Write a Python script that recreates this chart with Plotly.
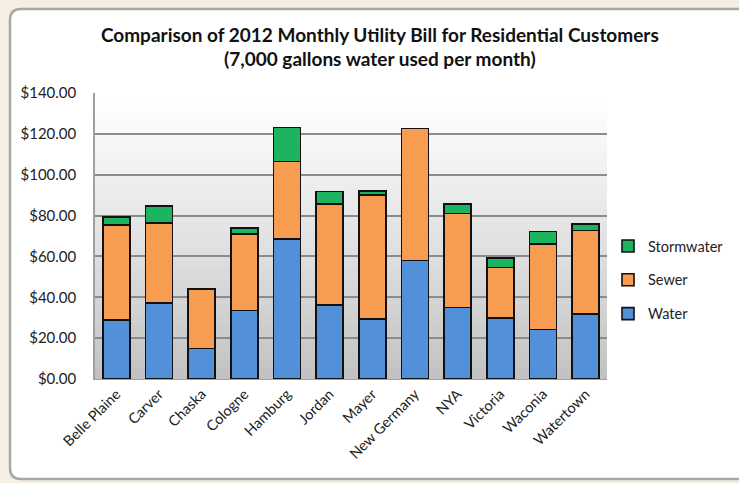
import plotly.graph_objects as go

cities = ["Belle Plaine", "Carver", "Chaska", "Cologne", "Hamburg", "Jordan",
          "Mayer", "New Germany", "NYA", "Victoria", "Waconia", "Watertown"]
water = [28.9, 37.1, 14.9, 33.5, 68.5, 36.1, 29.4, 58.0, 35.1, 29.8, 24.2, 31.7]
sewer = [46.6, 39.2, 29.2, 37.4, 37.9, 49.5, 60.6, 64.7, 45.9, 24.8, 41.8, 41.0]
storm = [3.9, 8.5, 0.0, 3.0, 16.8, 6.2, 2.0, 0.0, 4.8, 4.7, 6.2, 3.1]
y_ticks = [0, 20, 40, 60, 80, 100, 120, 140]
y_tick_labels = ["$%.2f" % v for v in y_ticks]

FONT = "Lato"
W, H = 739, 483
L, R, T, B = 95, 132, 93, 104
PW, PH = W - L - R, H - T - B


def px(x):
    return (x - L) / PW


def py(y):
    return (H - B - y) / PH


fig = go.Figure()
series = [("Water", water, "#5291DA", 3), ("Sewer", sewer, "#F89C52", 2), ("Stormwater", storm, "#1CB45E", 1)]
for name, vals, col, rank in series:
    fig.add_trace(go.Bar(
        x=cities, y=vals, name=name, legendgroup=name, legendrank=rank,
        marker=dict(color=col, line=dict(color="#111111", width=1.6)),
    ))

shapes = []
# outer card with rounded corner
x0, y0, x1, y1 = px(10), py(9), px(760), py(479)
rx = 11 / PW
ry = 11 / PH
path = (f"M {x0},{y1 + ry} L {x0},{y0 - ry} Q {x0},{y0} {x0 + rx},{y0} "
        f"L {x1},{y0} L {x1},{y1} L {x0 + rx},{y1} Q {x0},{y1} {x0},{y1 + ry} Z")
shapes.append(dict(type="path", xref="paper", yref="paper", path=path,
                   fillcolor="white", line=dict(color="#A8A8A8", width=2.5), layer="below"))
# gradient plot background
n = 60
for i in range(n):
    t = i / (n - 1)
    g = int(round(255 - (255 - 194) * (1 - t) ** 1.1))
    c = f"rgb({g},{g},{g})"
    shapes.append(dict(type="rect", xref="paper", yref="paper", x0=0, x1=1,
                       y0=i / n, y1=(i + 1) / n + 0.002, fillcolor=c,
                       line=dict(width=0), layer="below"))

fig.update_layout(
    width=W, height=H,
    margin=dict(l=L, r=R, t=T, b=B, autoexpand=False),
    paper_bgcolor="#F5EEE2",
    plot_bgcolor="rgba(0,0,0,0)",
    barmode="stack",
    bargap=0.37,
    shapes=shapes,
    font=dict(family=FONT, color="#222222", size=13),
    title=dict(
        text="<b>Comparison of 2012 Monthly Utility Bill for Residential Customers<br>(7,000 gallons water used per month)</b>",
        x=0.514, xref="container", xanchor="center",
        y=0.914, yref="container", yanchor="top",
        font=dict(family=FONT, size=19, color="#111111"),
    ),
    legend=dict(
        x=px(608), xanchor="left", y=py(280), yanchor="middle",
        traceorder="grouped", tracegroupgap=12,
        font=dict(family=FONT, size=14.5, color="#222222"),
        bgcolor="rgba(0,0,0,0)",
        itemwidth=30,
    ),
    xaxis=dict(
        tickangle=-45, showgrid=False, ticks="", automargin=False,
        showline=True, linecolor="#A0A0A0", linewidth=1,
        tickfont=dict(family=FONT, size=14.5, color="#222222"),
    ),
    yaxis=dict(
        range=[0, 140], tickvals=y_ticks, ticktext=y_tick_labels, automargin=False,
        showgrid=True, gridcolor="#8C8C8C", gridwidth=1.5,
        showline=True, linecolor="#A0A0A0", linewidth=1.5,
        ticks="", ticklabelstandoff=14,
        tickfont=dict(family=FONT, size=15, color="#222222"),
        zeroline=False,
    ),
)

fig.write_html("out.html", config={"displayModeBar": False},
               post_script="document.body.style.margin='0';")
